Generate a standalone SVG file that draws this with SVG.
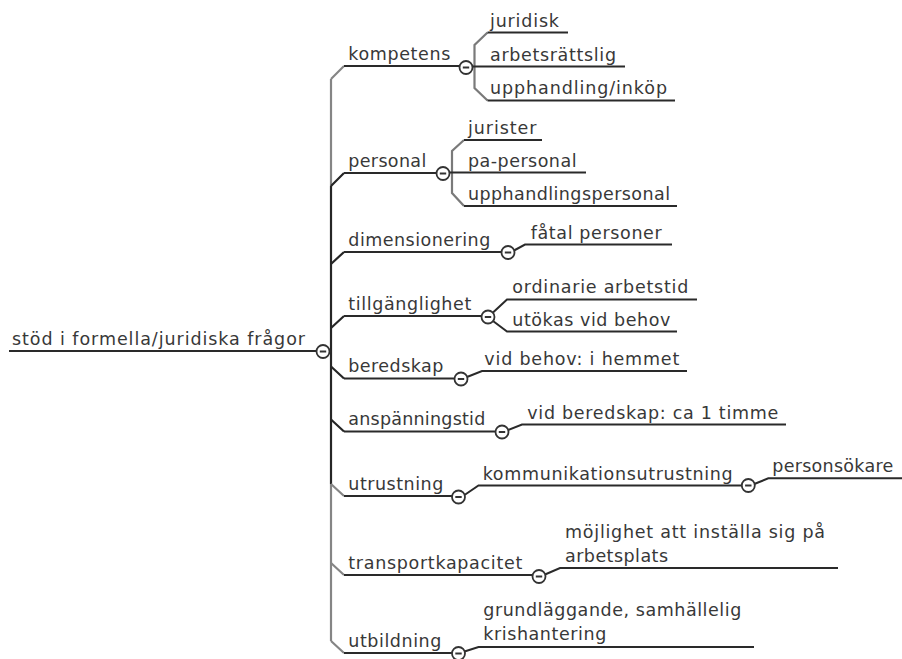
<svg xmlns="http://www.w3.org/2000/svg" width="902" height="659" viewBox="0 0 902 659">
  <style>
    text { font-family: "DejaVu Sans", "Liberation Sans", sans-serif; font-size: 17.5px; fill: #383838; }
    .ul { fill: none; stroke: #2a2a2a; stroke-width: 2; }
    .trunk-dark { fill: none; stroke: #262626; stroke-width: 2.2; }
    .trunk-light { fill: none; stroke: #858585; stroke-width: 2.2; }
    .sub { fill: none; stroke: #7a7a7a; stroke-width: 2.2; }
    .toggle circle { fill: #ffffff; stroke: #333333; stroke-width: 1.8; }
    .toggle line { stroke: #333333; stroke-width: 2; }
  </style>
  <defs>
    <g id="minus" class="toggle">
      <circle cx="0" cy="0" r="6.5"/>
      <line x1="-3.2" y1="0" x2="3.2" y2="0"/>
    </g>
  </defs>
  <rect width="902" height="659" fill="#ffffff"/>

  <!-- connectors -->
  <g id="connectors">
    <!-- main trunk -->
    <path class="trunk-light" d="M331,79 L331,186"/>
    <path class="trunk-dark" d="M331,186 L331,484 M329,351 L331,351"/>
    <path class="trunk-light" d="M331,484 L331,641"/>
    <!-- first level chamfers and underlines -->
    <path class="trunk-light" d="M331,79 L344,66"/>
    <path class="trunk-dark" d="M331,186 L344,173 M331,264 L344,252 M331,328 L344,316 M331,366.5 L344,378.5 M331,419.5 L344,431.5"/>
    <path class="trunk-light" d="M331,484 L344,496 M331,563 L344,575 M331,641 L344,653"/>
    <path class="ul" d="M9,351 L317,351"/>
    <path class="ul" d="M344,66 L460,66"/>
    <path class="ul" d="M344,173 L437,173"/>
    <path class="ul" d="M344,252 L502,252"/>
    <path class="ul" d="M344,316 L482,316"/>
    <path class="ul" d="M344,378.5 L455,378.5"/>
    <path class="ul" d="M344,431.5 L496,431.5"/>
    <path class="ul" d="M344,496 L452.5,496"/>
    <path class="ul" d="M344,575 L533,575"/>
    <path class="ul" d="M344,653 L452.5,653"/>

    <!-- kompetens children -->
    <path class="sub" d="M487.5,32.5 L474.5,45 L474.5,88 L487.5,100.5"/>
    <path class="ul" d="M487.5,32.5 L568,32.5"/>
    <path class="ul" d="M472,66.5 L625,66.5"/>
    <path class="ul" d="M487.5,100.5 L675,100.5"/>

    <!-- personal children -->
    <path class="sub" d="M464,140 L452,151 L452,193 L464,206"/>
    <path class="ul" d="M464,140 L542,140"/>
    <path class="ul" d="M449,172.5 L586,172.5"/>
    <path class="ul" d="M464,206 L677,206"/>

    <!-- single children -->
    <path class="ul" d="M514,250.5 L525,244.5 L672,244.5"/>
    <path class="ul" d="M493,312.5 L507,299.5 L697,299.5"/>
    <path class="ul" d="M493,321 L507,331.5 L677,331.5"/>
    <path class="ul" d="M467,377 L482,371 L687,371"/>
    <path class="ul" d="M508,430 L522,424.5 L786,424.5"/>
    <path class="ul" d="M464.5,495 L478.5,485.5 L742.3,485.5"/>
    <path class="ul" d="M754.3,484 L768.3,478.3 L902,478.3"/>
    <path class="ul" d="M545,574.5 L560,568 L838,568"/>
    <path class="ul" d="M464.5,651.5 L478.5,647 L754,647"/>
  </g>

  <!-- root -->
  <g id="root">
    <text x="12" y="345" textLength="293">stöd i formella/juridiska frågor</text>
    <use href="#minus" x="323" y="351.5"/>
  </g>

  <!-- first level -->
  <g id="kompetens">
    <text x="348.3" y="60" textLength="102">kompetens</text>
    <use href="#minus" x="466" y="67.5"/>
  </g>
  <g id="personal">
    <text x="348.3" y="167" textLength="78">personal</text>
    <use href="#minus" x="443" y="173.5"/>
  </g>
  <g id="dimensionering">
    <text x="348.3" y="246" textLength="142">dimensionering</text>
    <use href="#minus" x="508" y="252.5"/>
  </g>
  <g id="tillganglighet">
    <text x="348.3" y="310" textLength="123">tillgänglighet</text>
    <use href="#minus" x="488" y="317"/>
  </g>
  <g id="beredskap">
    <text x="348.3" y="372" textLength="95">beredskap</text>
    <use href="#minus" x="461" y="379"/>
  </g>
  <g id="anspanningstid">
    <text x="348.3" y="425" textLength="137">anspänningstid</text>
    <use href="#minus" x="502" y="432"/>
  </g>
  <g id="utrustning">
    <text x="348.3" y="490" textLength="95">utrustning</text>
    <use href="#minus" x="458.5" y="497"/>
  </g>
  <g id="transportkapacitet">
    <text x="348.3" y="569" textLength="174">transportkapacitet</text>
    <use href="#minus" x="539" y="576.5"/>
  </g>
  <g id="utbildning">
    <text x="348.3" y="647" textLength="93">utbildning</text>
    <use href="#minus" x="458.5" y="653.5"/>
  </g>

  <!-- second level -->
  <g id="juridisk"><text x="490" y="26.5" textLength="69">juridisk</text></g>
  <g id="arbetsrattslig"><text x="490" y="60.5" textLength="126">arbetsrättslig</text></g>
  <g id="upphandling-inkop"><text x="490" y="94" textLength="177">upphandling/inköp</text></g>

  <g id="jurister"><text x="468" y="134" textLength="68.5">jurister</text></g>
  <g id="pa-personal"><text x="468" y="166.5" textLength="108.5">pa-personal</text></g>
  <g id="upphandlingspersonal"><text x="468" y="200" textLength="202">upphandlingspersonal</text></g>

  <g id="fatal-personer"><text x="530.7" y="238.5" textLength="131">fåtal personer</text></g>

  <g id="ordinarie-arbetstid"><text x="512.3" y="293" textLength="176">ordinarie arbetstid</text></g>
  <g id="utokas-vid-behov"><text x="512.3" y="325.5" textLength="158">utökas vid behov</text></g>

  <g id="vid-behov"><text x="484.3" y="365" textLength="195">vid behov: i hemmet</text></g>

  <g id="vid-beredskap"><text x="527.3" y="418.5" textLength="251">vid beredskap: ca 1 timme</text></g>

  <g id="kommunikationsutrustning">
    <text x="482.7" y="479.5" textLength="250">kommunikationsutrustning</text>
    <use href="#minus" x="748.3" y="485.5"/>
  </g>
  <g id="personsokare"><text x="772.3" y="472" textLength="121">personsökare</text></g>

  <g id="mojlighet">
    <text x="565" y="538.3" textLength="260">möjlighet att inställa sig på</text>
    <text x="565" y="561.7" textLength="103">arbetsplats</text>
  </g>

  <g id="grundlaggande">
    <text x="483.3" y="615.5" textLength="258">grundläggande, samhällelig</text>
    <text x="483.3" y="640" textLength="123">krishantering</text>
  </g>
</svg>
